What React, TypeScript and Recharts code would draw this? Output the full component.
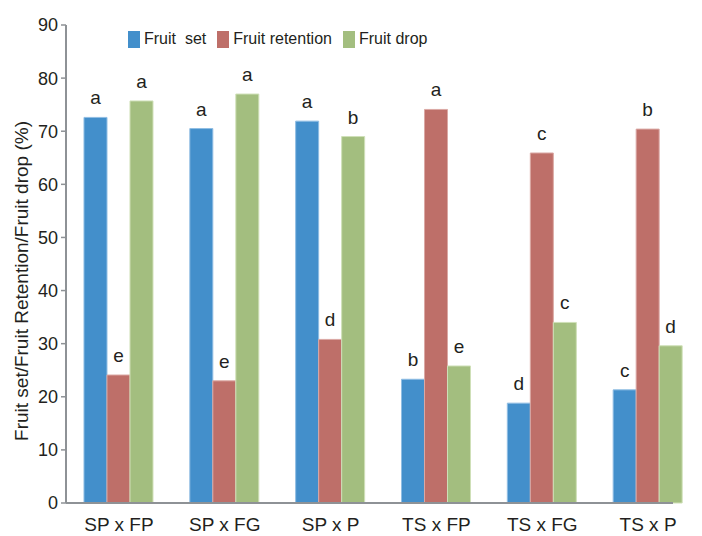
import React from 'react';
import { BarChart, Bar, XAxis, YAxis, LabelList } from 'recharts';

const crosses = ['SP x FP', 'SP x FG', 'SP x P', 'TS x FP', 'TS x FG', 'TS x P'];
const fruitSet = [72.6, 70.5, 71.9, 23.3, 18.8, 21.3];
const fruitRetention = [24.1, 23.0, 30.8, 74.1, 65.9, 70.4];
const fruitDrop = [75.7, 77.0, 69.0, 25.8, 34.0, 29.6];
const setLetters = ['a', 'a', 'a', 'b', 'd', 'c'];
const retentionLetters = ['e', 'e', 'd', 'a', 'c', 'b'];
const dropLetters = ['a', 'a', 'b', 'e', 'c', 'd'];
const yTicks = [0, 10, 20, 30, 40, 50, 60, 70, 80, 90];

const FONT = '"Liberation Sans", Arial, sans-serif';
const TEXT = '#231f20';
const AXIS = '#8e9296';

const series = [
  { key: 'set', name: 'Fruit  set', color: '#438fcb', edge: '#8fbde3', letters: setLetters },
  { key: 'retention', name: 'Fruit retention', color: '#be6f69', edge: '#dba8a4', letters: retentionLetters },
  { key: 'drop', name: 'Fruit drop', color: '#a3be7f', edge: '#cfe0b8', letters: dropLetters },
];

const data = crosses.map((cross, i) => ({
  cross,
  set: fruitSet[i],
  retention: fruitRetention[i],
  drop: fruitDrop[i],
  setL: setLetters[i],
  retentionL: retentionLetters[i],
  dropL: dropLetters[i],
}));

const App: React.FC = () => {
  return (
    <div style={{ position: 'absolute', left: 0, top: 0, width: 702, height: 536, fontFamily: FONT }}>
      <BarChart
        width={702}
        height={536}
        data={data}
        margin={{ top: 25, right: 1, left: 0, bottom: 0 }}
        barCategoryGap="17%"
        barGap={0}
      >
        <XAxis
          dataKey="cross"
          axisLine={false}
          tickLine={false}
          tickSize={0}
          tickMargin={15}
          height={33}
          interval={0}
          tick={{ fill: TEXT, fontSize: 19, fontFamily: FONT }}
        />
        <YAxis
          width={66}
          domain={[0, 90]}
          ticks={yTicks}
          interval={0}
          axisLine={{ stroke: AXIS, strokeWidth: 2 }}
          tickLine={{ stroke: AXIS, strokeWidth: 1.5 }}
          tickSize={5}
          tickMargin={3}
          tick={{ fill: TEXT, fontSize: 18, fontFamily: FONT }}
          label={{
            value: 'Fruit set/Fruit Retention/Fruit drop (%)',
            angle: -90,
            position: 'center',
            dx: -12,
            dy: 17,
            style: { fill: TEXT, fontSize: 19, fontFamily: FONT },
          }}
        />
        {series.map((s) => (
          <Bar
            key={s.key}
            dataKey={s.key}
            name={s.name}
            fill={s.color}
            stroke={s.edge}
            strokeWidth={1}
            isAnimationActive={false}
          >
            <LabelList
              dataKey={`${s.key}L`}
              position="top"
              offset={13}
              style={{ fill: TEXT, fontSize: 19, fontFamily: FONT }}
            />
          </Bar>
        ))}
      </BarChart>
      {/* x axis line stops short of the last group */}
      <div style={{ position: 'absolute', left: 66, top: 502, width: 607, height: 2, background: AXIS }} />
      <div
        style={{
          position: 'absolute',
          left: 128,
          top: 30,
          display: 'flex',
          alignItems: 'center',
          fontSize: 16,
          color: TEXT,
          whiteSpace: 'pre',
        }}
      >
        {series.map((s) => (
          <div key={s.key} style={{ display: 'flex', alignItems: 'center', marginRight: 11 }}>
            <div style={{ width: 12, height: 17, background: s.color, marginRight: 4 }} />
            <span>{s.name}</span>
          </div>
        ))}
      </div>
    </div>
  );
};

export default App;
